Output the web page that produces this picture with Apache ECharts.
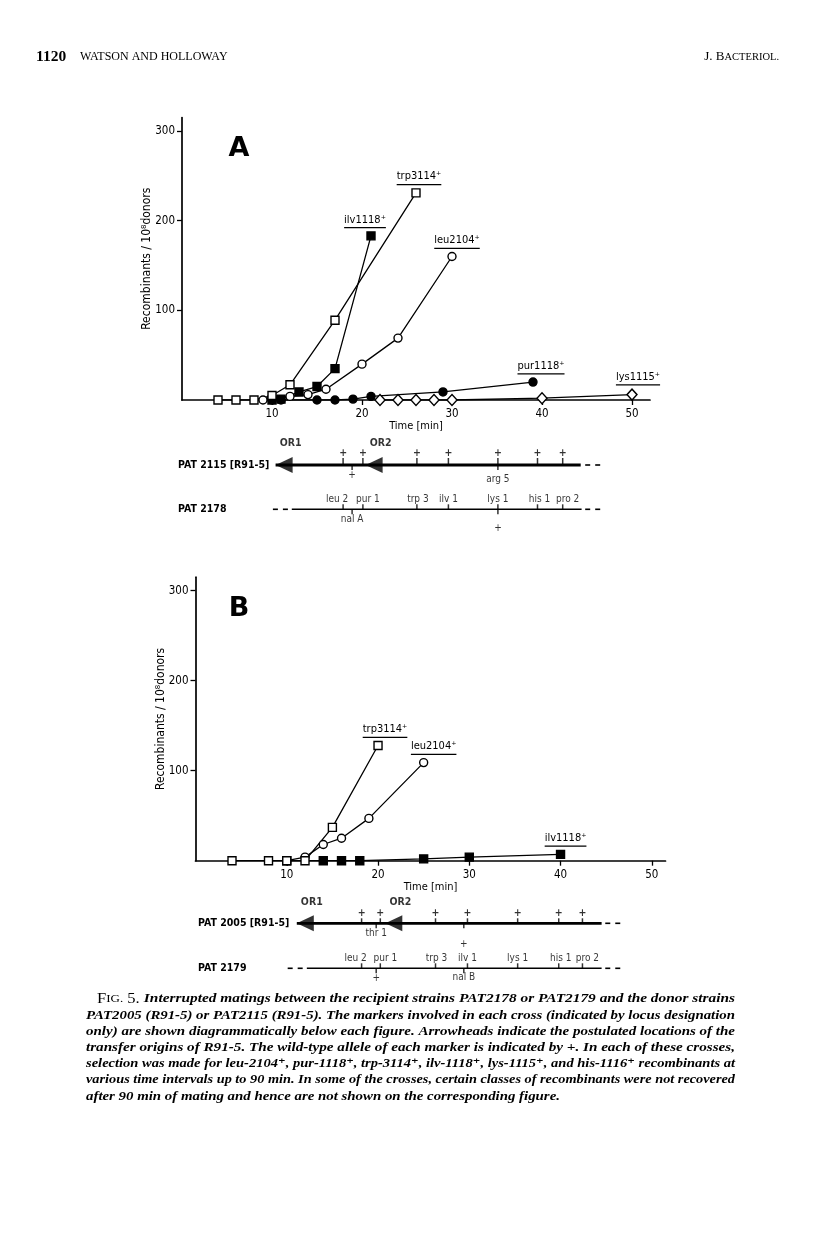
<!DOCTYPE html>
<html><head><meta charset="utf-8">
<script src="https://cdn.jsdelivr.net/npm/echarts@6/dist/echarts.min.js"></script>
<style>html,body{margin:0;padding:0;background:#fff}#c{width:816px;height:1233px}</style>
</head><body><div id="c"></div>
<script>
// ================= DATA =================
// Panel A: donor PAT2115 (R91-5) x recipient PAT2178
const aTrpTime=[4,6,8,10,12,17,26];        const aTrpVal=[0,0,0,5,17,89,231];
const aIlvTime=[10,11,13,15,17,21];        const aIlvVal=[0,1,9,15,35,183];
const aLeuTime=[9,10,12,14,16,20,24,30];   const aLeuVal=[0,2,4,6,12,40,69,160];
const aPurTime=[10,11,15,17,19,21,29,39];  const aPurVal=[0,0,0,0,1,4,9,20];
const aLysTime=[22,24,26,28,30,40,50];     const aLysVal=[0,0,0,0,0,2,6];
// Panel B: donor PAT2005 (R91-5) x recipient PAT2179
const bTrpTime=[4,8,10,12,15,20];          const bTrpVal=[0,0,0,0,37,128];
const bLeuTime=[10,12,14,16,19,25];        const bLeuVal=[0,4,18,25,47,109];
const bIlvTime=[10,14,16,18,25,30,40];     const bIlvVal=[0,0,0,0,2,4,7];
// tick labels
const xTickVals=[10,20,30,40,50];
const yTickVals=[100,200,300];
// Genetic maps (positions in minutes)
const mapAOriginPos=[10.4,20.4];           const mapAOriginNames=['OR1','OR2'];
const mapADonorSpan=[10.4,44.3];           const mapADonorTail=[44.8,46.6];
const mapADonorMarks=[17.9,20.1,26.1,29.6,35.1,39.5,42.3];
const mapADonorBelowPos=[18.9,35.1];       const mapADonorBelowText=['+','arg 5'];
const mapARecipHead=[10.1,11.9];           const mapARecipSpan=[12.2,44.4]; const mapARecipTail=[44.8,46.6];
const mapARecipPos=[17.9,20.1,26.1,29.6,35.1,39.5,42.3];
const mapARecipNames=['leu 2','pur 1','trp 3','ilv 1','lys 1','his 1','pro 2'];
const mapARecipBelowPos=[18.9,35.1];       const mapARecipBelowText=['nal A','+'];

const mapBOriginPos=[11.1,20.8];           const mapBOriginNames=['OR1','OR2'];
const mapBDonorSpan=[11.1,44.5];           const mapBDonorTail=[44.9,46.6];
const mapBDonorMarks=[18.2,20.25,26.3,29.8,35.3,39.8,42.4];
const mapBDonorBelowPos=[19.8,29.4];       const mapBDonorBelowText=['thr 1','+'];
const mapBRecipHead=[10.1,11.9];           const mapBRecipSpan=[12.2,44.5]; const mapBRecipTail=[44.9,46.6];
const mapBRecipPos=[18.2,20.25,26.3,29.8,35.3,39.8,42.4];
const mapBRecipNames=['leu 2','pur 1','trp 3','ilv 1','lys 1','his 1','pro 2'];
const mapBRecipBelowPos=[19.8,29.4];       const mapBRecipBelowText=['+','nal B'];

const captionLines=[
 'Interrupted matings between the recipient strains PAT2178 or PAT2179 and the donor strains',
 'PAT2005 (R91-5) or PAT2115 (R91-5). The markers involved in each cross (indicated by locus designation',
 'only) are shown diagrammatically below each figure. Arrowheads indicate the postulated locations of the',
 'transfer origins of R91-5. The wild-type allele of each marker is indicated by +. In each of these crosses,',
 'selection was made for leu-2104\u207A, pur-1118\u207A, trp-3114\u207A, ilv-1118\u207A, lys-1115\u207A, and his-1116\u207A recombinants at',
 'various time intervals up to 90 min. In some of the crosses, certain classes of recombinants were not recovered',
 'after 90 min of mating and hence are not shown on the corresponding figure.'
];

// ================= STYLE / LAYOUT =================
const F="'DejaVu Sans Condensed','Liberation Sans Narrow','DejaVu Sans',sans-serif";
const SERIF="'Liberation Serif','DejaVu Serif',serif";
const cv=document.createElement('canvas').getContext('2d');
function tw(font,t){cv.font=font;return cv.measureText(t).width;}

const gridA={left:182,top:117.5,width:468,height:282.5};
const gridB={left:195.5,top:577.2,width:470,height:283.5};
const mapGridA={left:182,top:430,width:468,height:110};
const mapGridB={left:195.5,top:890,width:470,height:100};

const SYM={
  openSquare:{symbol:'rect',fill:'#fff',size:8},
  fillSquare:{symbol:'rect',fill:'#000',size:8},
  openCircle:{symbol:'circle',fill:'#fff',size:8},
  fillCircle:{symbol:'circle',fill:'#000',size:8},
  openDiamond:{symbol:'diamond',fill:'#fff',size:[10,11]}
};

function curve(gi,name,times,vals,sym,dx){
  const s=SYM[sym];
  const w=tw('11px '+F,name);
  const data=times.map((t,i)=>[t,vals[i]]);
  const last=data.length-1;
  const d=data.map((p,i)=>i===last?{value:p,label:{show:true,position:'top',distance:2,offset:[dx,0],
      formatter:'{t|'+name+'}\n{u|}',
      rich:{t:{fontFamily:F,fontSize:11,color:'#000',lineHeight:13},
            u:{width:w,height:1.2,backgroundColor:'#000',lineHeight:3}}}}:{value:p});
  return {type:'line',xAxisIndex:gi,yAxisIndex:gi,data:d,symbol:s.symbol,symbolSize:s.size,showAllSymbol:true,
    lineStyle:{color:'#000',width:1.3},itemStyle:{color:s.fill,borderColor:'#000',borderWidth:1.4},
    emphasis:{disabled:true},animation:false,z:3};
}

function xAx(gi,max){return {gridIndex:gi,type:'value',min:0,max:max,interval:10,
  axisLine:{onZero:false,lineStyle:{color:'#000',width:1.7}},
  axisTick:{length:5,customValues:xTickVals,lineStyle:{color:'#000',width:1.3}},
  axisLabel:{customValues:xTickVals,color:'#000',fontFamily:F,fontSize:11.5,margin:8},
  splitLine:{show:false},name:'Time [min]',nameLocation:'middle',nameGap:21,nameMoveOverlap:false,
  nameTextStyle:{color:'#000',fontFamily:F,fontSize:11}};}
function yAx(gi){return {gridIndex:gi,type:'value',min:0,max:315,interval:100,
  axisLine:{onZero:false,lineStyle:{color:'#000',width:1.7}},
  axisTick:{length:5,customValues:yTickVals,lineStyle:{color:'#000',width:1.3}},
  axisLabel:{customValues:yTickVals,color:'#000',fontFamily:F,fontSize:11.5,margin:7},
  splitLine:{show:false},name:'Recombinants / 10\u2078donors',nameLocation:'middle',nameGap:29,nameMoveOverlap:false,
  nameTextStyle:{color:'#000',fontFamily:F,fontSize:12}};}
function hx(gi,max){return {gridIndex:gi,type:'value',min:0,max:max,show:false};}
function hy(gi,h){return {gridIndex:gi,type:'value',min:0,max:h,inverse:true,show:false};}

// map helpers
function seg(gi,a,row,w,dash){return {type:'line',xAxisIndex:gi,yAxisIndex:gi,data:[[a[0],row],[a[1],row]],symbol:'none',
  lineStyle:{color:'#000',width:w,type:dash?[5,5]:'solid'},animation:false,silent:true,z:2};}
function ticks(gi,pos,row,len,up){return {type:'scatter',xAxisIndex:gi,yAxisIndex:gi,data:pos.map(x=>[x,row]),
  symbol:'rect',symbolSize:[1.5,len],symbolOffset:[0,up?-len/2:len/2],itemStyle:{color:'#000'},silent:true,animation:false,z:2};}
function texts(gi,pos,row,labels,dx,dy,size,weight){return {type:'scatter',xAxisIndex:gi,yAxisIndex:gi,
  data:pos.map((x,i)=>({value:[x,row],label:{formatter:labels[i],offset:[Array.isArray(dx)?dx[i]:dx,Array.isArray(dy)?dy[i]:dy]}})),
  symbolSize:1,itemStyle:{color:'rgba(0,0,0,0)'},silent:true,animation:false,z:4,
  label:{show:true,position:'inside',color:'#000',fontFamily:F,fontSize:size||10,fontWeight:weight||'normal'}};}
function arrows(gi,pos,row){return {type:'scatter',xAxisIndex:gi,yAxisIndex:gi,data:pos.map(x=>[x,row]),
  symbol:'path://M0,8 L16,0 L16,16 Z',symbolKeepAspect:false,symbolSize:[17,16],symbolOffset:[8.5,0],
  itemStyle:{color:'#000'},silent:true,animation:false,z:3};}

function mapSeries(gi,m,L){
  return [
    seg(gi,m.donorSpan,L.dr,2.8,false),
    seg(gi,m.donorTail,L.dr,1.6,true),
    seg(gi,m.recipHead,L.rr,1.6,true),
    seg(gi,m.recipSpan,L.rr,1.6,false),
    seg(gi,m.recipTail,L.rr,1.6,true),
    arrows(gi,m.originPos,L.dr),
    texts(gi,m.originPos,L.dr,m.originNames,15,L.orDy,10.5,'bold'),
    ticks(gi,m.donorMarks,L.dr,L.plusTick,true),
    texts(gi,m.donorMarks,L.dr,m.donorMarks.map(()=>'+'),0,L.plusDy,10.5,'bold'),
    ticks(gi,m.donorBelowPos,L.dr,5,false),
    texts(gi,m.donorBelowPos,L.dr,m.donorBelowText,0,L.donorBelowDy,10,'normal'),
    ticks(gi,m.recipPos,L.rr,5,true),
    texts(gi,m.recipPos,L.rr,m.recipNames,L.nameDx,-10,10,'normal'),
    ticks(gi,m.recipBelowPos,L.rr,5,false),
    texts(gi,m.recipBelowPos,L.rr,m.recipBelowText,0,L.recipBelowDy,10,'normal')
  ];
}

const mapA={originPos:mapAOriginPos,originNames:mapAOriginNames,donorSpan:mapADonorSpan,donorTail:mapADonorTail,
  donorMarks:mapADonorMarks,donorBelowPos:mapADonorBelowPos,donorBelowText:mapADonorBelowText,
  recipHead:mapARecipHead,recipSpan:mapARecipSpan,recipTail:mapARecipTail,recipPos:mapARecipPos,
  recipNames:mapARecipNames,recipBelowPos:mapARecipBelowPos,recipBelowText:mapARecipBelowText};
const mapB={originPos:mapBOriginPos,originNames:mapBOriginNames,donorSpan:mapBDonorSpan,donorTail:mapBDonorTail,
  donorMarks:mapBDonorMarks,donorBelowPos:mapBDonorBelowPos,donorBelowText:mapBDonorBelowText,
  recipHead:mapBRecipHead,recipSpan:mapBRecipSpan,recipTail:mapBRecipTail,recipPos:mapBRecipPos,
  recipNames:mapBRecipNames,recipBelowPos:mapBRecipBelowPos,recipBelowText:mapBRecipBelowText};
const nameDx=[-6,5,1,0,0,2,5];
const layA={dr:35,rr:79.3,orDy:-22,plusTick:7,plusDy:-12,donorBelowDy:[10,14],recipBelowDy:[10,19],nameDx:nameDx};
const layB={dr:33.3,rr:78.3,orDy:-21,plusTick:5,plusDy:-10,donorBelowDy:[10,21],recipBelowDy:[10,9],nameDx:nameDx};

// ================= GRAPHIC TEXT =================
const graphics=[];
function gtext(x,y,text,opt){graphics.push(Object.assign({type:'text',x:x,y:y,silent:true,
  style:Object.assign({text:text,fill:'#000',verticalAlign:'middle',fontFamily:F,fontSize:11},opt.style||{})},opt.el||{}));}
function richWidth(txt,rich){
  try{ const t=new echarts.graphic.Text({style:{text:txt,rich:rich}}); const w=t.getBoundingRect().width; if(w>0) return w; }catch(e){}
  return null;
}
// header
gtext(36,57,'1120',{style:{fontFamily:SERIF,fontSize:15.5,fontWeight:'bold'}});
gtext(80,57,'WATSON AND HOLLOWAY',{style:{fontFamily:SERIF,fontSize:12}});
gtext(779,57,'{a|J. B}{b|ACTERIOL.}',{style:{align:'right',rich:{a:{fontFamily:SERIF,fontSize:13,fill:'#000'},b:{fontFamily:SERIF,fontSize:10.5,fill:'#000'}}}});
// panel letters
gtext(239,149,'A',{style:{fontFamily:"'DejaVu Sans',sans-serif",fontSize:27,fontWeight:'bold',align:'center'}});
gtext(239,609,'B',{style:{fontFamily:"'DejaVu Sans',sans-serif",fontSize:27,fontWeight:'bold',align:'center'}});
// strain labels
gtext(178,465,'PAT 2115 [R91-5]',{style:{fontSize:10.5,fontWeight:'bold'}});
gtext(178,509.3,'PAT 2178',{style:{fontSize:10.5,fontWeight:'bold'}});
gtext(198,923.3,'PAT 2005 [R91-5]',{style:{fontSize:10.5,fontWeight:'bold'}});
gtext(198,968.3,'PAT 2179',{style:{fontSize:10.5,fontWeight:'bold'}});
// caption (justified lines)
const capLeft=86, capFirst=97, capRight=735, capTop=999, capStep=16.2;
const richS={a:{fontFamily:SERIF,fontSize:14,fill:'#000'},b:{fontFamily:SERIF,fontSize:11,fill:'#000'},
  it:{fontFamily:SERIF,fontSize:13,fontStyle:'italic',fontWeight:'bold',fill:'#000'}};
const scales=[];
captionLines.forEach((ln,i)=>{
  const txt= i===0 ? '{a|F}{b|IG.}{a| 5. }{it|'+ln+'}' : '{it|'+ln+'}';
  let nat=richWidth(txt,richS);
  if(!nat){ nat = i===0 ? tw("14px 'Liberation Serif'",'F 5. ')+tw("11px 'Liberation Serif'",'IG.')+tw("italic bold 13px 'Liberation Serif'",ln)
                        : tw("italic bold 13px 'Liberation Serif'",ln); }
  const x = i===0 ? capFirst : capLeft;
  let s = i<captionLines.length-1 ? (capRight-x)/nat : null;
  if(s) scales.push(s); else s=scales.reduce((a,b)=>a+b,0)/scales.length;
  gtext(x,capTop+i*capStep,txt,{style:{rich:richS},el:{scaleX:s}});
});

// ================= CHART =================
const chart=echarts.init(document.getElementById('c'),null,{renderer:'canvas',width:816,height:1233});
chart.setOption({
  animation:false,
  backgroundColor:'#fff',
  grid:[Object.assign({},gridA),Object.assign({},gridB),Object.assign({},mapGridA),Object.assign({},mapGridB)],
  xAxis:[xAx(0,52),xAx(1,51.5),hx(2,52),hx(3,51.5)],
  yAxis:[yAx(0),yAx(1),hy(2,110),hy(3,100)],
  series:[
    curve(0,'lys1115\u207A',aLysTime,aLysVal,'openDiamond',6),
    curve(0,'pur1118\u207A',aPurTime,aPurVal,'fillCircle',8),
    curve(0,'leu2104\u207A',aLeuTime,aLeuVal,'openCircle',5),
    curve(0,'ilv1118\u207A',aIlvTime,aIlvVal,'fillSquare',-6),
    curve(0,'trp3114\u207A',aTrpTime,aTrpVal,'openSquare',3),
    curve(1,'ilv1118\u207A',bIlvTime,bIlvVal,'fillSquare',5),
    curve(1,'leu2104\u207A',bLeuTime,bLeuVal,'openCircle',10),
    curve(1,'trp3114\u207A',bTrpTime,bTrpVal,'openSquare',7)
  ].concat(mapSeries(2,mapA,layA)).concat(mapSeries(3,mapB,layB)),
  graphic:graphics
});
</script></body></html>
